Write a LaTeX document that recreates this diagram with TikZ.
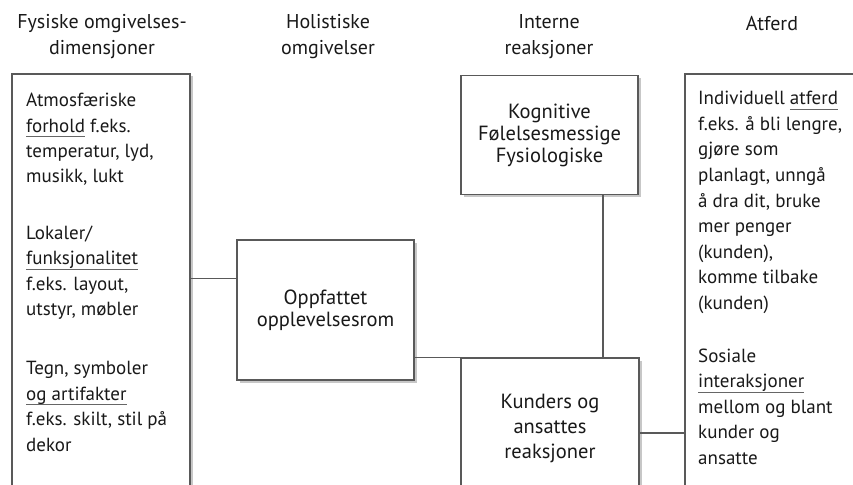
\documentclass[tikz,border=0pt]{standalone}
\usepackage{fontspec}
\setmainfont{PT Sans}
\usetikzlibrary{shadows}
\newcommand{\ulword}[1]{\setbox0\hbox{#1}\rlap{\color{black!60}\rule[-5pt]{\wd0}{0.9pt}}\box0\relax}

\begin{document}
\begin{tikzpicture}[x=1pt,y=-1pt,
  box/.style={draw=black!65,line width=1.2pt,fill=white,rectangle,inner sep=0pt,
    drop shadow={shadow xshift=2.5pt,shadow yshift=-2.5pt,fill=black!22,opacity=1}},
  head/.style={align=center,font=\fontsize{20}{26}\selectfont,text=black!90},
  txt/.style={align=left,anchor=north west,inner sep=0pt,font=\fontsize{19}{25.4}\selectfont,text=black!90},
  ctr/.style={align=center,font=\fontsize{20.5}{22}\selectfont,text=black!90},
  link/.style={draw=black!65,line width=1.2pt}]
\useasboundingbox (0,0) rectangle (853,484);
\clip (0,0) rectangle (853,484);
\node[head] (hphys)at(102,37){Fysiske omgivelses-\\dimensjoner};
\node[head] (hhol)at(328,37){Holistiske\\omgivelser};
\node[head] (hint)at(549,37){Interne\\reaksjoner};
\node[head] (hatf)at(772,24){Atferd};
\node[box,minimum width=178,minimum height=446] (phys)at(101,297){};
\node[box,minimum width=195,minimum height=446] (atf)at(782.5,297){};
\node[box,ctr,minimum width=177,minimum height=140] (oppl)at(325.5,310){Oppfattet\\opplevelsesrom};
\node[box,ctr,minimum width=177,minimum height=119] (kog)at(549.5,135){Kognitive\\Følelsesmessige\\Fysiologiske};
\node[box,ctr,font=\fontsize{20.5}{25}\selectfont,minimum width=178,minimum height=140] (kund)at(550,428){Kunders og\\ansattes\\reaksjoner};
\node[txt] (tphys)at(26,93){Atmosfæriske\\\ulword{forhold} f.eks.\\temperatur, lyd,\\musikk, lukt\\[31pt]
Lokaler/\\\ulword{funksjonalitet}\\f.eks. layout,\\utstyr, møbler\\[34pt]
Tegn, symboler\\\ulword{og artifakter}\\f.eks. skilt, stil på\\dekor};
\node[txt,font=\fontsize{19}{25.6}\selectfont] (tatf)at(698,91){Individuell \ulword{atferd}\\f.eks. å bli lengre,\\gjøre som\\planlagt, unngå\\å dra dit, bruke\\mer penger\\(kunden),\\komme tilbake\\(kunden)\\[27pt]
Sosiale\\\ulword{interaksjoner}\\mellom og blant\\kunder og\\ansatte};
\draw[link] ([yshift=-39pt]oppl.north west) -- ([yshift=-39pt]oppl.north west -| phys.east);
\draw[link] (kund.north west -| oppl.east) -- (kund.north west);
\draw[link] ([xshift=53.5pt]kog.south) -- ([xshift=53.5pt]kog.south |- kund.north);
\draw[link] ([yshift=-5pt]kund.east) -- ([yshift=-5pt]kund.east -| atf.west);
\end{tikzpicture}
\end{document}
